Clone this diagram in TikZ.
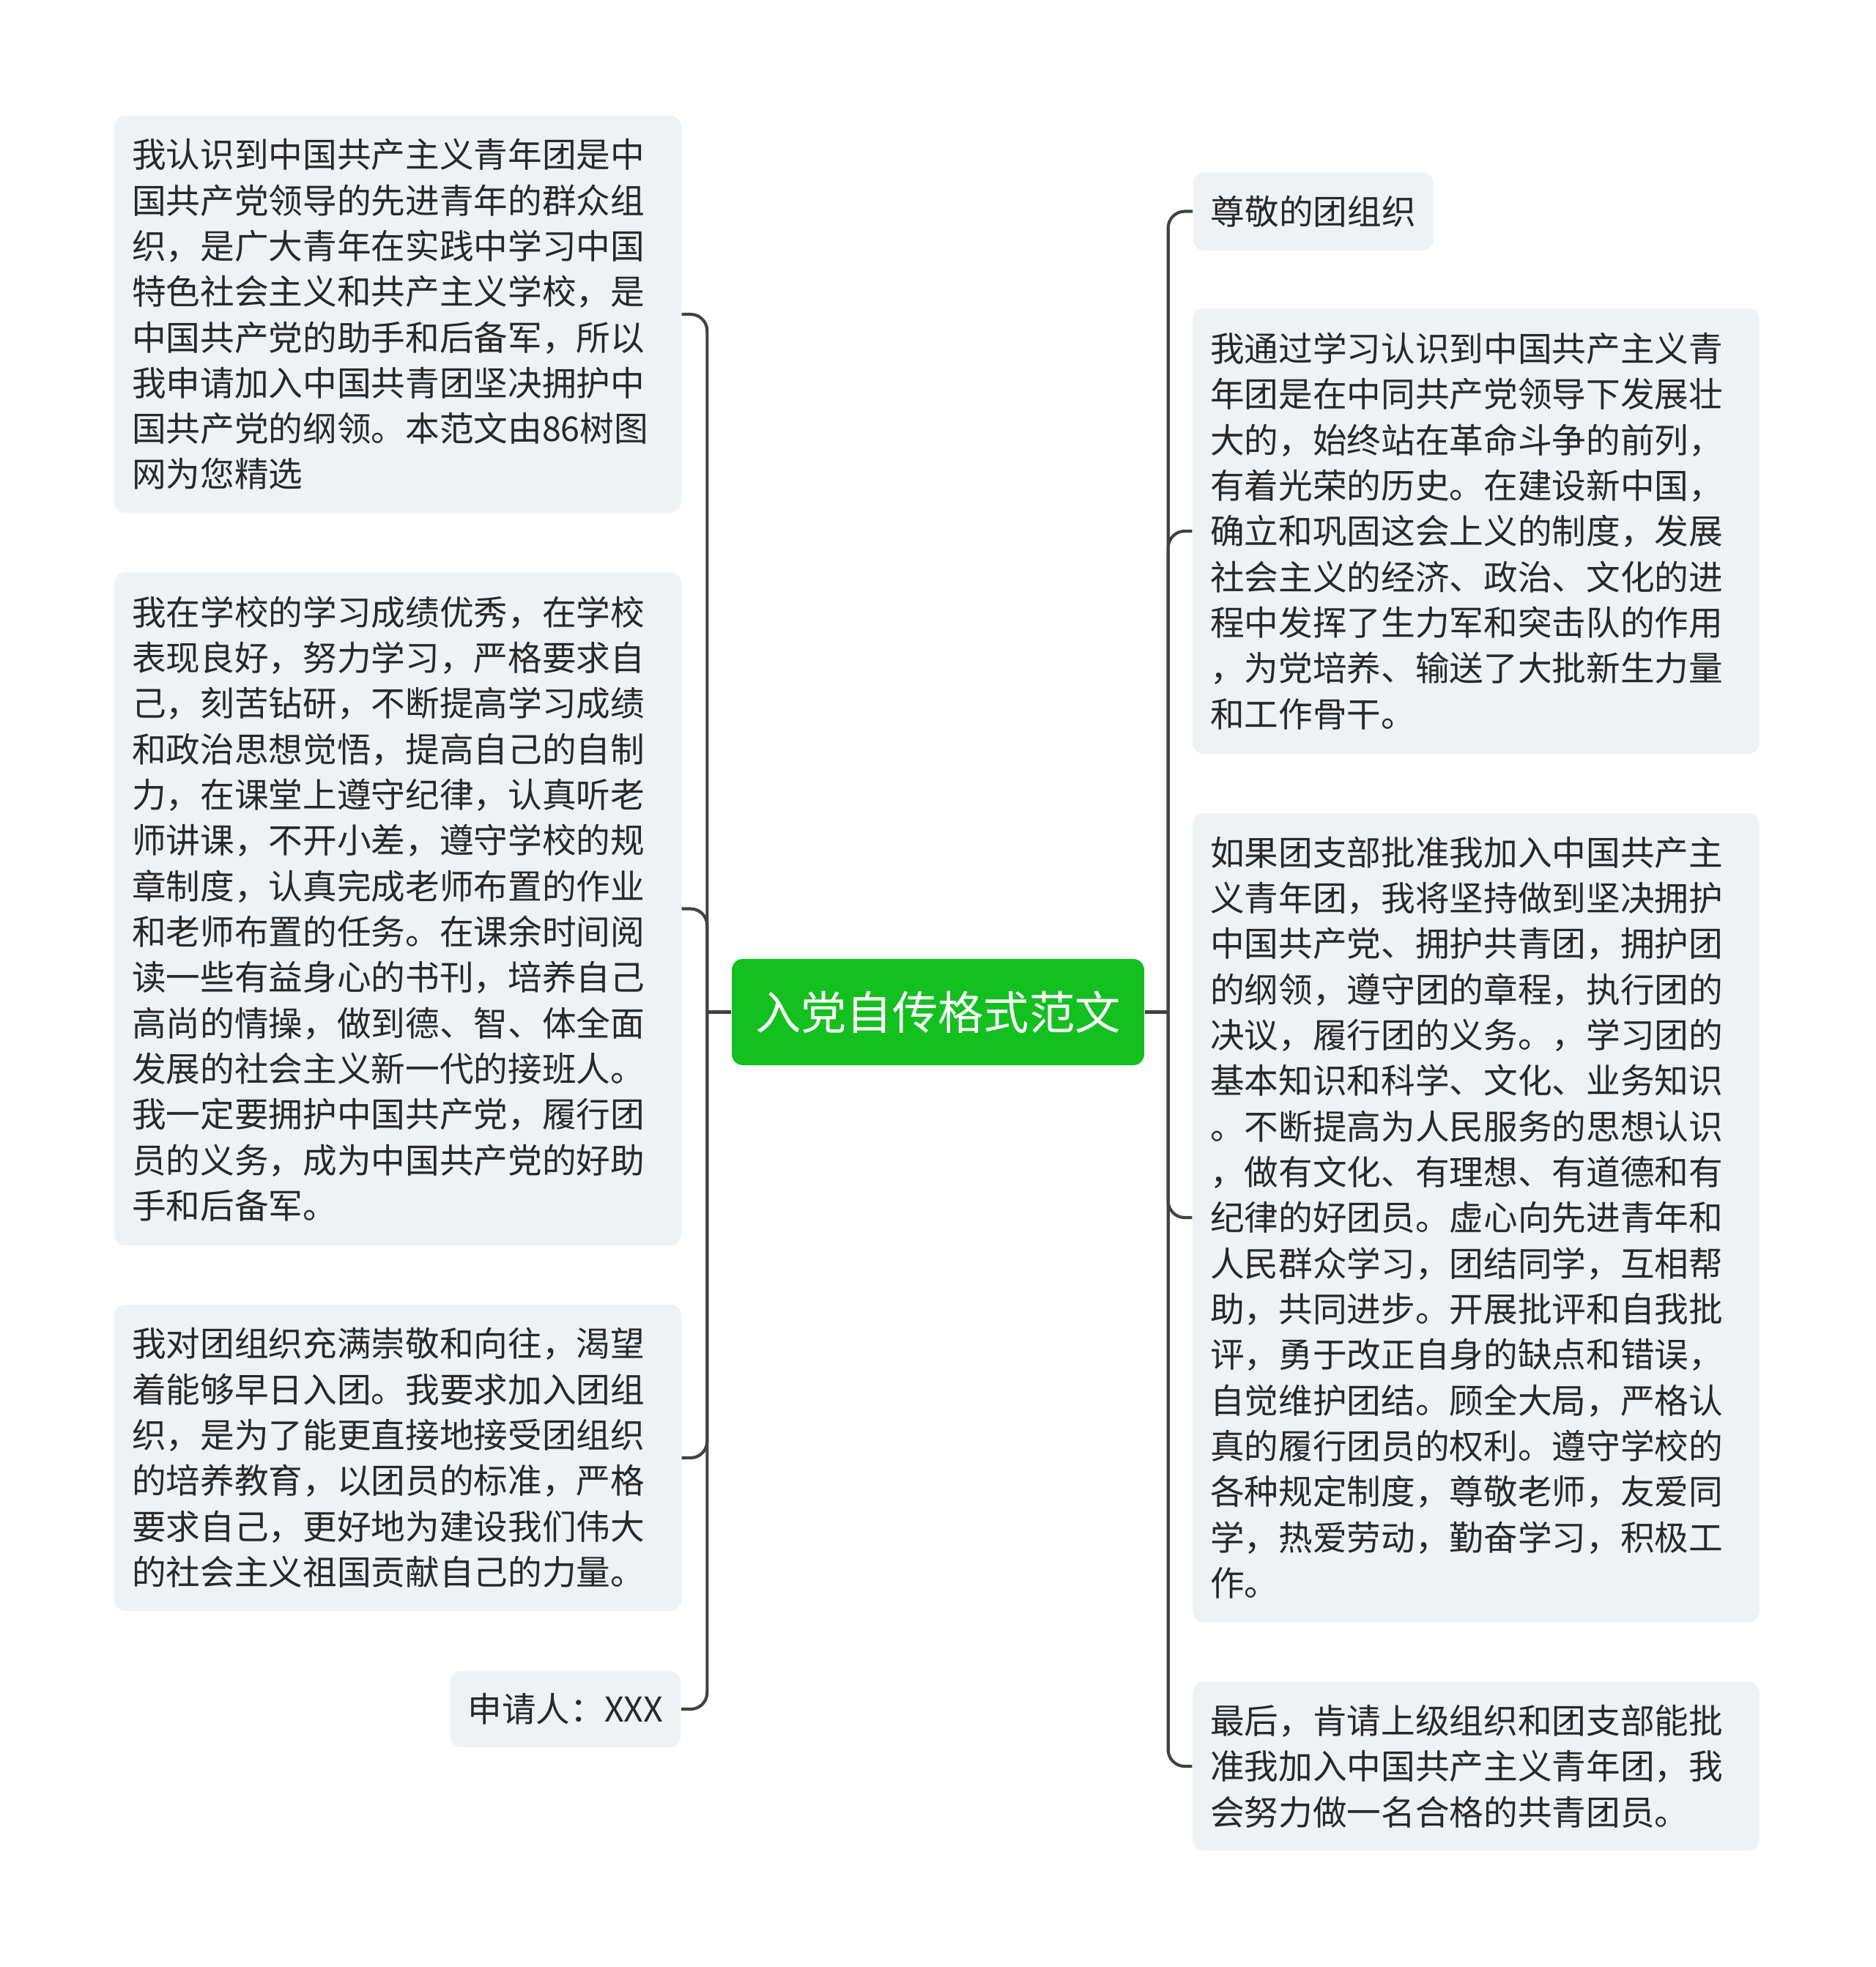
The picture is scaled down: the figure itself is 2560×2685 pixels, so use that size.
\documentclass[tikz,border=0pt]{standalone}
\usepackage{fontspec}
\newfontfamily\cjk{Noto Sans CJK SC}
\usetikzlibrary{calc}
\definecolor{txtgray}{RGB}{40,40,40}
\definecolor{boxgray}{RGB}{239,242,245}
\definecolor{linegray}{RGB}{64,67,64}
\definecolor{rootgreen}{RGB}{19,192,32}

\begin{document}
\begin{tikzpicture}[x=0.3pt, y=-0.3pt,
        leaf/.style={fill=boxgray, rounded corners=4.5pt, text=txtgray,
            font=\cjk\fontsize{14pt}{18.7pt}\selectfont,
            inner xsep=7.2pt, inner ysep=0pt, align=left},
        wide/.style={leaf, text width=217.8pt},
        link/.style={draw=linegray, line width=1.25pt, rounded corners=6.8pt}]
    \useasboundingbox (0,0) rectangle (2560,2685);

    \node [fill=rootgreen, rounded corners=4.5pt, text=white, inner sep=0pt,
        font=\cjk\fontsize{18.7pt}{22pt}\selectfont,
        minimum width=168.9pt, minimum height=43.5pt] (Title) at (1280.5,1381.5) {入党自传格式范文};

    \node [wide, minimum height=162.6pt] (L1) at (543,429) {我认识到中国共产主义青年团是中\\
        国共产党领导的先进青年的群众组\\
        织，是广大青年在实践中学习中国\\
        特色社会主义和共产主义学校，是\\
        中国共产党的助手和后备军，所以\\
        我申请加入中国共青团坚决拥护中\\
        国共产党的纲领。本范文由86树图\\
        网为您精选};
    \node [wide, minimum height=275.7pt] (L2) at (543,1240.5) {我在学校的学习成绩优秀，在学校\\
        表现良好，努力学习，严格要求自\\
        己，刻苦钻研，不断提高学习成绩\\
        和政治思想觉悟，提高自己的自制\\
        力，在课堂上遵守纪律，认真听老\\
        师讲课，不开小差，遵守学校的规\\
        章制度，认真完成老师布置的作业\\
        和老师布置的任务。在课余时间阅\\
        读一些有益身心的书刊，培养自己\\
        高尚的情操，做到德、智、体全面\\
        发展的社会主义新一代的接班人。\\
        我一定要拥护中国共产党，履行团\\
        员的义务，成为中国共产党的好助\\
        手和后备军。};
    \node [wide, minimum height=125.4pt] (L3) at (543,1990) {我对团组织充满崇敬和向往，渴望\\
        着能够早日入团。我要求加入团组\\
        织，是为了能更直接地接受团组织\\
        的培养教育，以团员的标准，严格\\
        要求自己，更好地为建设我们伟大\\
        的社会主义祖国贡献自己的力量。};
    \node [leaf, minimum height=31.2pt, anchor=east] (L4) at (930,2333) {申请人：XXX};

    \node [leaf, minimum height=32.1pt, anchor=west] (R1) at (1628,288.5) {尊敬的团组织};
    \node [wide, minimum height=182.4pt] (R2) at (2015,725) {我通过学习认识到中国共产主义青\\
        年团是在中同共产党领导下发展壮\\
        大的，始终站在革命斗争的前列，\\
        有着光荣的历史。在建设新中国，\\
        确立和巩固这会上义的制度，发展\\
        社会主义的经济、政治、文化的进\\
        程中发挥了生力军和突击队的作用\\
        ，为党培养、输送了大批新生力量\\
        和工作骨干。};
    \node [wide, minimum height=331.2pt] (R3) at (2015,1662) {如果团支部批准我加入中国共产主\\
        义青年团，我将坚持做到坚决拥护\\
        中国共产党、拥护共青团，拥护团\\
        的纲领，遵守团的章程，执行团的\\
        决议，履行团的义务。，学习团的\\
        基本知识和科学、文化、业务知识\\
        。不断提高为人民服务的思想认识\\
        ，做有文化、有理想、有道德和有\\
        纪律的好团员。虚心向先进青年和\\
        人民群众学习，团结同学，互相帮\\
        助，共同进步。开展批评和自我批\\
        评，勇于改正自身的缺点和错误，\\
        自觉维护团结。顾全大局，严格认\\
        真的履行团员的权利。遵守学校的\\
        各种规定制度，尊敬老师，友爱同\\
        学，热爱劳动，勤奋学习，积极工\\
        作。};
    \node [wide, minimum height=69pt] (R4) at (2015,2411) {最后，肯请上级组织和团支部能批\\
        准我加入中国共产主义青年团，我\\
        会努力做一名合格的共青团员。};

    \coordinate (T2L) at ($(Title.west)+(-33,0)$);
    \coordinate (T2R) at ($(Title.east)+(32,0)$);

    \draw [link] (Title.west) -- (T2L);
    \draw [link] (Title.east) -- (T2R);
    \foreach \n in {L1,L2,L3,L4}
        \draw [link] (T2L) |- (\n.east);
    \foreach \n in {R1,R2,R3,R4}
        \draw [link] (T2R) |- (\n.west);
\end{tikzpicture}
\end{document}
